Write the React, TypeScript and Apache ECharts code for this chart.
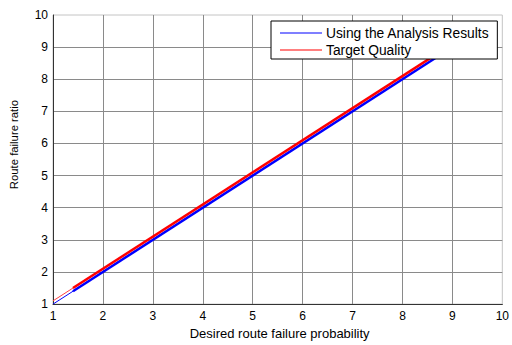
import React, { useEffect, useRef } from "react";
import * as echarts from "echarts";

const xTicks = [1, 2, 3, 4, 5, 6, 7, 8, 9, 10];
const seriesNames = ["Using the Analysis Results", "Target Quality"];
const blueThin: [number, number][] = [[1, 1], [1.4, 1.4]];
const blueThick: [number, number][] = [[1.4, 1.4], [9.5, 9.5]];
const redThin: [number, number][] = [[1, 1.1], [1.4, 1.5]];
const redThick: [number, number][] = [[1.4, 1.5], [9.5, 9.6]];

const FONT = "Liberation Sans, Arial, sans-serif";

export default function App() {
  const ref = useRef<HTMLDivElement>(null);
  useEffect(() => {
    if (!ref.current) return;
    const chart = echarts.init(ref.current, undefined, { renderer: "svg" });
    const axisCommon = {
      type: "value" as const,
      min: xTicks[0],
      max: xTicks[xTicks.length - 1],
      interval: 1,
      axisLine: { show: true, lineStyle: { color: "#333", width: 1 } },
      axisTick: { show: false },
      splitLine: { show: true, showMaxLine: false, lineStyle: { color: "#8a8a8a", width: 1 } },
      axisLabel: { color: "#000", fontSize: 12, fontFamily: FONT },
      nameLocation: "middle" as const,
    };
    chart.setOption({
      animation: false,
      backgroundColor: "#fff",
      grid: {
        left: 51,
        right: 5,
        top: 15,
        bottom: 31,
        show: true,
        borderColor: "#c4c4c4",
        borderWidth: 1,
        containLabel: false,
      },
      xAxis: {
        ...axisCommon,
        name: "Desired route failure probability",
        nameGap: 19,
        nameTextStyle: { color: "#000", fontSize: 13, fontFamily: FONT, padding: [0, 0, 0, 4] },
        axisLabel: { ...axisCommon.axisLabel, margin: 6 },
      },
      yAxis: {
        ...axisCommon,
        name: "Route failure ratio",
        nameGap: 34,
        nameRotate: 90,
        nameTextStyle: { color: "#000", fontSize: 11.3, fontFamily: FONT, padding: [0, 0, 0, 30] },
        axisLabel: { ...axisCommon.axisLabel, margin: 5 },
      },
      legend: {
        show: true,
        orient: "vertical",
        left: 271,
        top: 21,
        padding: [5, 8, 2, 9],
        itemGap: 3,
        itemWidth: 42,
        itemHeight: 1,
        icon: "rect",
        backgroundColor: "#fff",
        borderColor: "#000",
        borderWidth: 1,
        borderRadius: 0,
        textStyle: { color: "#000", fontSize: 13.8, fontFamily: FONT, padding: [0, 0, 0, -1] },
        data: [
          { name: seriesNames[0], itemStyle: { color: "#0000ff" } },
          { name: seriesNames[1], itemStyle: { color: "#ff0000" } },
        ],
      },
      series: [
        {
          type: "line",
          name: seriesNames[0],
          data: blueThick,
          showSymbol: false,
          lineStyle: { color: "#0000ff", width: 2.5 },
          itemStyle: { color: "#0000ff" },
          z: 2,
        },
        {
          type: "line",
          data: blueThin,
          showSymbol: false,
          lineStyle: { color: "#0000ff", width: 1 },
          z: 2,
        },
        {
          type: "line",
          name: seriesNames[1],
          data: redThick,
          showSymbol: false,
          lineStyle: { color: "#ff0000", width: 2.5 },
          itemStyle: { color: "#ff0000" },
          z: 2,
        },
        {
          type: "line",
          data: redThin,
          showSymbol: false,
          lineStyle: { color: "#ff4040", width: 1 },
          z: 2,
        },
      ],
    });
    return () => chart.dispose();
  }, []);
  return <div ref={ref} style={{ width: 512, height: 345, position: "absolute", left: 0, top: 0 }} />;
}
